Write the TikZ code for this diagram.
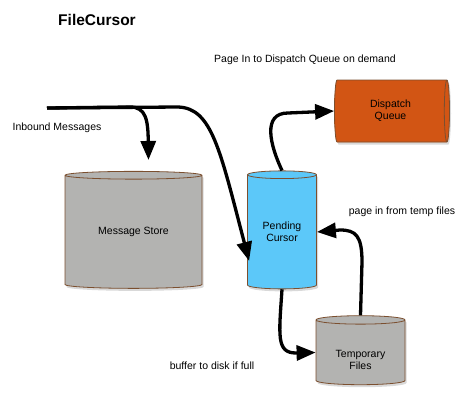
\documentclass[tikz,border=0pt]{standalone}
\usepackage{fontspec}
\setmainfont{Liberation Sans}
\usetikzlibrary{shapes.geometric,arrows.meta,shadows,calc}

\definecolor{storegray}{HTML}{B3B3B1}
\definecolor{rim}{HTML}{7B4F2F}
\definecolor{cursorblue}{HTML}{5CC8F9}
\definecolor{queueorange}{HTML}{EC6A1E}
\definecolor{queuedark}{HTML}{D25514}

\tikzset{
    store/.style={cylinder, draw=rim, thick, fill=#1, align=center, inner sep=0pt,
        drop shadow={opacity=0.3, shadow xshift=1.5pt, shadow yshift=-2.5pt}},
    upright/.style={shape border rotate=90},
    flow/.style={line width=3.3pt, -{Triangle[length=19pt,width=15pt]}},
}

\begin{document}
\begin{tikzpicture}[x=1pt, y=-1pt, font=\fontsize{10.5}{12}\selectfont]
    \useasboundingbox (0,0) rectangle (468,407);

    \node[font=\fontsize{15.5}{18}\selectfont\bfseries] (title) at (97,20) {FileCursor};

    % stores
    \node[store=storegray, upright, minimum width=137pt, minimum height=117pt, shape aspect=0.11] (ms) at (133.5,232) {Message Store};
    \node[store=cursorblue, upright, minimum width=69pt, minimum height=118pt, shape aspect=0.2] (pc) at (282,232) {Pending\\Cursor};
    \node[store=storegray, upright, minimum width=89pt, minimum height=69pt, shape aspect=0.17] (tf) at (360.5,352.5)
        {\raisebox{-9pt}[\height][\depth]{\begin{tabular}{@{}c@{}}Temporary\\Files\end{tabular}}};
    \node[store=queueorange, minimum width=62pt, minimum height=115pt, shape aspect=0.24,
        top color=queuedark, middle color=queueorange, bottom color=queuedark] (dq) at (390.5,111) {Dispatch\\Queue};

    % labels
    \node (lblin) at (57,128) {Inbound Messages};
    \node (lbldq) at (305,60) {Page In to Dispatch Queue on demand};
    \node (lbltf) at (402,212) {page in from temp files};
    \node (lblbuf) at (212,366) {buffer to disk if full};

    % connectors
    \coordinate (in) at (47,108);
    \draw[flow] (in) -- (130,107) .. controls (146,107) and (148,120) .. ($(ms.north)+(15,-11)$);
    \draw[flow] (in) -- (178,107) .. controls (212,108) and (220,150) .. ($(pc.south west)+(2,-6)$);
    \draw[flow] (pc.north) .. controls (270,145) and (262,113) .. (288,113) -- (dq.west);
    \draw[flow] (pc.south) .. controls (279,335) and (276,353) .. (296,353) -- (tf.west);
    \draw[flow] (tf.north) -- (362,262) .. controls (362,236) and (356,230) .. (340,230) -- (pc.east);
\end{tikzpicture}
\end{document}
